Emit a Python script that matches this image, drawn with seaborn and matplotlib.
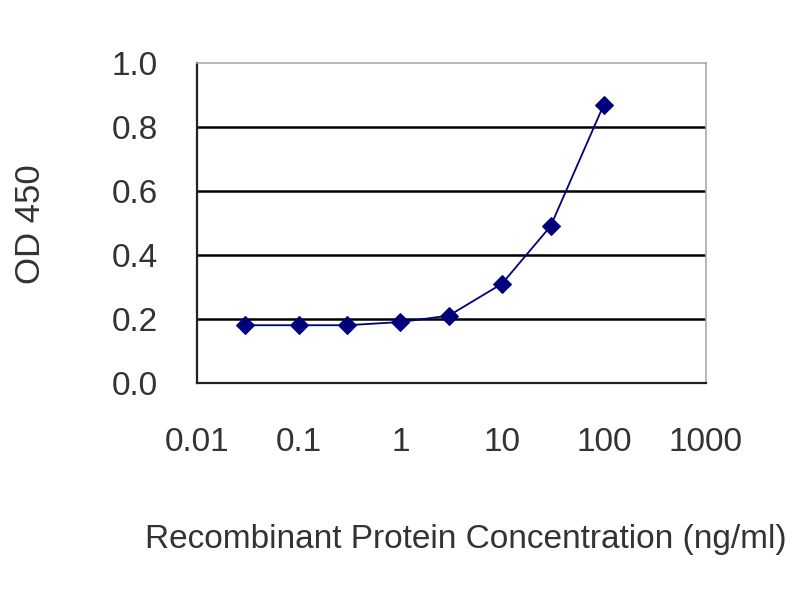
import numpy as np
import pandas as pd
import matplotlib
matplotlib.use("Agg")
import matplotlib.pyplot as plt
import seaborn as sns

# Values
concentration = [0.03, 0.1, 0.3, 1, 3, 10, 30, 100]
od450 = [0.18, 0.18, 0.18, 0.19, 0.21, 0.31, 0.49, 0.87]
x_ticks = [0.01, 0.1, 1, 10, 100, 1000]
x_tick_labels = ["0.01", "0.1", "1", "10", "100", "1000"]
y_ticks = [0.0, 0.2, 0.4, 0.6, 0.8, 1.0]
y_tick_labels = ["0.0", "0.2", "0.4", "0.6", "0.8", "1.0"]

df = pd.DataFrame({"conc": concentration, "od": od450})

sns.set_theme(style="white")
plt.rcParams["font.family"] = ["Liberation Sans", "DejaVu Sans"]

fig = plt.figure(figsize=(8, 6), dpi=100)
ax = fig.add_axes([0.246, 0.362, 0.636, 0.533])

navy = "#00007a"
sns.lineplot(data=df, x="conc", y="od", ax=ax, color=navy, linewidth=1.3,
             marker="D", markersize=9, markeredgecolor=navy,
             markerfacecolor=navy)

ax.set_xscale("log")
ax.set_xlim(0.01, 1000)
ax.set_ylim(0, 1.0)
ax.set_xticks(x_ticks)
ax.set_xticklabels(x_tick_labels)
ax.minorticks_off()
ax.set_yticks(y_ticks)
ax.set_yticklabels(y_tick_labels)

# black horizontal gridlines
for v in y_ticks[1:-1]:
    ax.axhline(v, color="black", linewidth=1.8, zorder=0)

for side in ["left", "bottom"]:
    ax.spines[side].set_color("#222222")
    ax.spines[side].set_linewidth(1.6)
for side in ["top", "right"]:
    ax.spines[side].set_color("#aaaaaa")
    ax.spines[side].set_linewidth(1.2)

ax.tick_params(axis="x", direction="inout", length=6, width=1.2,
               colors="#222222", labelsize=24, pad=29, labelcolor="#333333")
ax.tick_params(axis="y", direction="out", length=0, labelsize=24, pad=28,
               labelcolor="#333333")

ax.set_xlabel("Recombinant Protein Concentration (ng/ml)", fontsize=24,
              color="#333333")
ax.set_ylabel("OD 450", fontsize=25, color="#333333")
ax.xaxis.set_label_coords(0.528, -0.44)
ax.yaxis.set_label_coords(-0.294, 0.495)

fig.savefig("out.png", dpi=100)
